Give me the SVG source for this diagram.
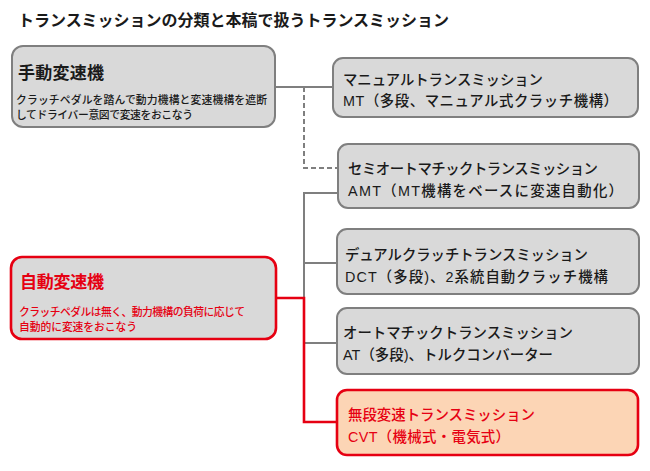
<svg xmlns="http://www.w3.org/2000/svg" width="650" height="471" viewBox="0 0 650 471">
<style>
text{font-family:"Liberation Sans","Noto Sans CJK JP",sans-serif;fill:#1a1a1a}
.jp{font-family:"Noto Sans CJK JP","Liberation Sans",sans-serif}
.title{font-size:16px;font-weight:bold}
.ntitle{font-size:17px;font-weight:bold}
.body{font-size:10.8px;font-weight:500}
.line{font-size:14.4px;font-weight:500}
.red{fill:#e60012}
.gbox{fill:#d9d9d9;stroke:#7f7f7f;stroke-width:2}
.rbox{fill:#d9d9d9;stroke:#e60012;stroke-width:2.6}
.cbox{fill:#fcd5b5;stroke:#e60012;stroke-width:2.6}
.gline{fill:none;stroke:#7f7f7f;stroke-width:2}
.dline{fill:none;stroke:#7f7f7f;stroke-width:2;stroke-dasharray:5 3}
.rline{fill:none;stroke:#e60012;stroke-width:2.6}
</style>
<rect width="650" height="471" fill="#ffffff"/>
<text class="jp title" x="18" y="26" textLength="431">トランスミッションの分類と本稿で扱うトランスミッション</text>
<g id="connectors">
<path class="gline" d="M275,87 H333"/>
<path class="dline" d="M304,87 V168 H338"/>
<path class="gline" d="M338,193 H304 V343 H337"/>
<path class="gline" d="M304,263 H337"/>
<path class="rline" d="M276,298 H304 V422 H337"/>
</g>
<g id="manual">
<rect class="gbox" x="12" y="46" width="263" height="81" rx="11"/>
<text class="jp ntitle" x="18" y="79" textLength="86">手動変速機</text>
<text class="jp body" x="16" y="104" textLength="251">クラッチペダルを踏んで動力機構と変速機構を遮断</text>
<text class="jp body" x="16" y="119" textLength="177">してドライバー意図で変速をおこなう</text>
</g>
<g id="auto">
<rect class="rbox" x="11" y="257" width="265" height="82" rx="11"/>
<text class="jp ntitle red" x="20" y="288" textLength="84">自動変速機</text>
<text class="jp body red" x="19" y="316" textLength="226">クラッチペダルは無く、動力機構の負荷に応じて</text>
<text class="jp body red" x="19" y="331" textLength="118">自動的に変速をおこなう</text>
</g>
<g id="mt">
<rect class="gbox" x="333" y="58" width="305" height="59" rx="10"/>
<text class="jp line" x="343" y="85" textLength="200">マニュアルトランスミッション</text>
<text class="line" x="343" y="106" textLength="275">MT（多段、マニュアル式クラッチ機構）</text>
</g>
<g id="amt">
<rect class="gbox" x="338" y="144" width="301" height="64" rx="10"/>
<text class="jp line" x="348" y="174" textLength="250">セミオートマチックトランスミッション</text>
<text class="line" x="348" y="196" textLength="275">AMT（MT機構をベースに変速自動化）</text>
</g>
<g id="dct">
<rect class="gbox" x="337" y="229" width="302" height="65" rx="10"/>
<text class="jp line" x="345" y="260" textLength="243">デュアルクラッチトランスミッション</text>
<text class="line" x="345" y="282" textLength="263">DCT（多段)、2系統自動クラッチ機構</text>
</g>
<g id="at">
<rect class="gbox" x="337" y="308" width="302" height="66" rx="10"/>
<text class="jp line" x="343" y="338" textLength="230">オートマチックトランスミッション</text>
<text class="line" x="343" y="360" textLength="210">AT（多段)、トルクコンバーター</text>
</g>
<g id="cvt">
<rect class="cbox" x="337" y="390" width="301" height="65" rx="10"/>
<text class="jp line red" x="348" y="420" textLength="187">無段変速トランスミッション</text>
<text class="line red" x="348" y="442" textLength="162">CVT（機械式・電気式）</text>
</g>
</svg>
